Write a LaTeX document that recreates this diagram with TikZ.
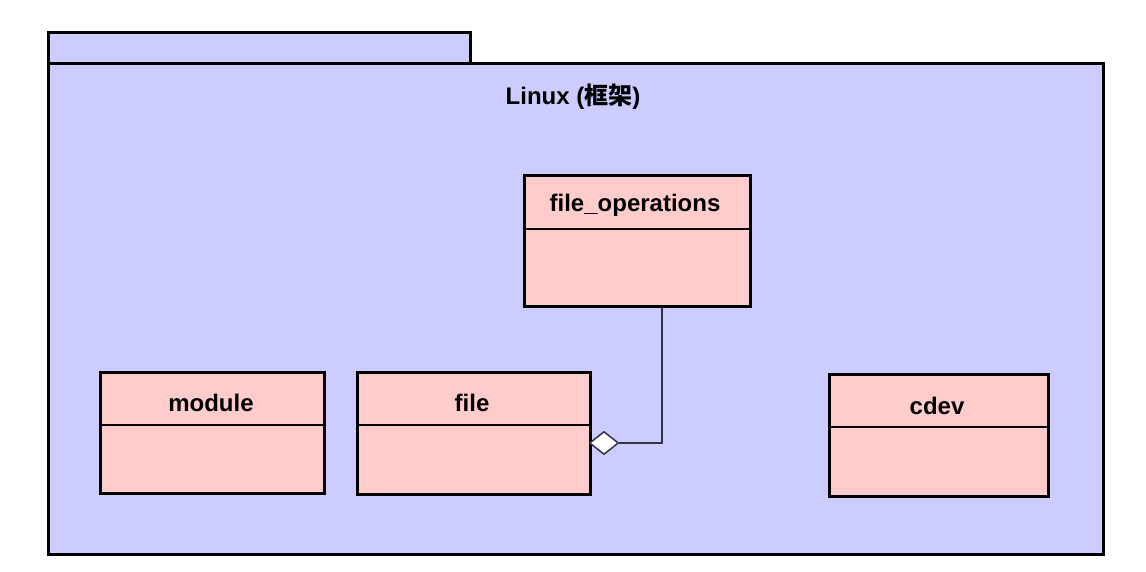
\documentclass[tikz,border=0pt]{standalone}
\usepackage{fontspec}
\setmainfont{Liberation Sans}
\newfontfamily\cjk{Noto Sans CJK SC}
\usepackage{tikz}
\usetikzlibrary{shapes.geometric}
\definecolor{pkgblue}{RGB}{204,204,255}
\definecolor{clspink}{RGB}{255,204,204}
\definecolor{linkgray}{RGB}{51,51,68}

\begin{document}
\begin{tikzpicture}[x=1pt,y=-1pt]
    \tikzset{every node/.style={inner sep=0pt, font=\fontsize{24}{28}\selectfont\bfseries},
             classbox/.style={draw=black, fill=clspink, line width=3pt},
             pkgbox/.style={draw=black, fill=pkgblue, line width=3pt},
             aggtip/.style={diamond, draw=linkgray, fill=white, line width=1.5pt, minimum width=29pt, minimum height=23pt}}
    \useasboundingbox (0,0) rectangle (1146,572);
    % package
    \draw [pkgbox] (48,33) rectangle (470,64);
    \draw [pkgbox] (48,64) rectangle (1103,554);
    \node (pkgname) at (573,97) {Linux ({\cjk 框架})};
    % classes
    \node [classbox, minimum width=226pt, minimum height=130pt] (fops) at (637,241) {};
    \node (fopsname) at (635,205) {file\_operations};
    \draw [black, line width=1.5pt] (fops.west |- 0,229) -- (fops.east |- 0,229);
    \node [classbox, minimum width=224pt, minimum height=121pt] (module) at (212,432.5) {};
    \node (modulename) at (211,403) {module};
    \draw [black, line width=1.5pt] (module.west |- 0,425) -- (module.east |- 0,425);
    \node [classbox, minimum width=233pt, minimum height=122pt] (file) at (473.5,433) {};
    \node (filename) at (472,403) {file};
    \draw [black, line width=1.5pt] (file.west |- 0,425) -- (file.east |- 0,425);
    \node [classbox, minimum width=219pt, minimum height=122pt] (cdev) at (938.5,435) {};
    \node (cdevname) at (937,406) {cdev};
    \draw [black, line width=1.5pt] (cdev.west |- 0,427) -- (cdev.east |- 0,427);
    % aggregation
    \coordinate (bend) at (662,443);
    \node [aggtip] (agg) at (604,443) {};
    \draw [linkgray, line width=1.5pt] (fops.south -| bend) -- (bend) -- (agg.east);
\end{tikzpicture}
\end{document}
